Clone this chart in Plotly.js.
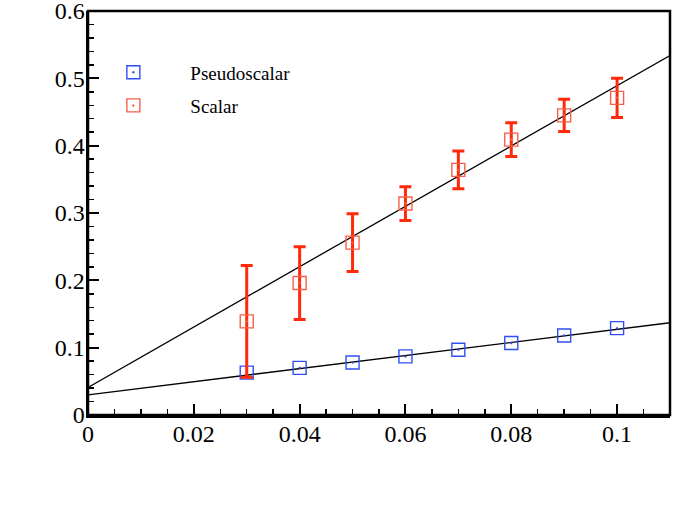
<!DOCTYPE html>
<html>
<head>
<meta charset="utf-8">
<script src="https://cdn.plot.ly/plotly-3.0.1.min.js"></script>
<style>
  html, body { margin: 0; padding: 0; background: #fff; }
  #chart { width: 681px; height: 505px; }
</style>
</head>
<body>
<div id="chart"></div>
<script>
// quark mass values
const MASS = [0.03, 0.04, 0.05, 0.06, 0.07, 0.08, 0.09, 0.1];

const PSEUDO = [0.063, 0.070, 0.078, 0.087, 0.097, 0.107, 0.118, 0.129];

const SCALAR = [0.139, 0.196, 0.256, 0.314, 0.364, 0.409, 0.445, 0.471];
const SCALAR_ERR = [0.083, 0.054, 0.043, 0.025, 0.028, 0.025, 0.024, 0.029];

// linear fits, drawn over the full x range
const FIT_X = [0, 0.11];
const FIT_SCALAR = [0.041, 0.534];
const FIT_PSEUDO = [0.030, 0.137];

// tick labels
const X_TICKS = [0, 0.02, 0.04, 0.06, 0.08, 0.1];
const X_LABELS = ["0", "0.02", "0.04", "0.06", "0.08", "0.1"];
const Y_TICKS = [0, 0.1, 0.2, 0.3, 0.4, 0.5, 0.6];
const Y_LABELS = ["0", "0.1", "0.2", "0.3", "0.4", "0.5", "0.6"];

const SERIF = "Liberation Serif, Times New Roman, serif";

const traces = [
    {
        x: FIT_X, y: FIT_SCALAR,
        mode: "lines", type: "scatter",
        line: { color: "#000", width: 1.3 },
        showlegend: false, hoverinfo: "skip",
    },
    {
        x: FIT_X, y: FIT_PSEUDO,
        mode: "lines", type: "scatter",
        line: { color: "#000", width: 1.3 },
        showlegend: false, hoverinfo: "skip",
    },
    {
        x: MASS, y: PSEUDO,
        mode: "markers", type: "scatter",
        name: "Pseudoscalar", legend: "legend",
        marker: { symbol: "square-open-dot", size: 13, color: "#2f4ff2", line: { width: 1.4 } },
    },
    {
        x: MASS, y: SCALAR,
        mode: "markers", type: "scatter",
        name: "Scalar", legend: "legend2",
        error_y: { type: "data", array: SCALAR_ERR, visible: true, color: "#ff2a0a", thickness: 3, width: 6 },
        marker: { symbol: "square-open-dot", size: 13, color: "#f4604a", line: { width: 1.4 } },
    },
];

const axisCommon = {
    showgrid: false, zeroline: false,
    showline: true, linecolor: "#000", linewidth: 2.5, mirror: false,
    ticks: "inside", ticklen: 11, tickwidth: 2, tickcolor: "#000",
    tickfont: { family: SERIF, size: 24, color: "#000" },
    tickmode: "array",
    ticklabeloverflow: "allow",
};

const legendCommon = {
    x: -0.02, xanchor: "left", yanchor: "top",
    bgcolor: "rgba(0,0,0,0)",
    font: { family: SERIF, size: 19, color: "#000" },
    itemwidth: 104,
};

const layout = {
    width: 681, height: 505,
    paper_bgcolor: "#fff", plot_bgcolor: "#fff",
    margin: { l: 88, r: 11, t: 11, b: 90 },
    xaxis: Object.assign({}, axisCommon, {
        range: [0, 0.11], tickvals: X_TICKS, ticktext: X_LABELS,
        minor: { dtick: 0.005, tick0: 0, ticks: "inside", ticklen: 6, tickwidth: 1.5, tickcolor: "#000" },
        ticklabelstandoff: -4,
    }),
    yaxis: Object.assign({}, axisCommon, {
        range: [0, 0.6], tickvals: Y_TICKS, ticktext: Y_LABELS,
        minor: { dtick: 0.02, tick0: 0, ticks: "inside", ticklen: 6, tickwidth: 1.5, tickcolor: "#000" },
        ticklabelstandoff: -4,
    }),
    shapes: [{
        type: "rect", xref: "x domain", yref: "y domain",
        x0: 0, x1: 1, y0: 0, y1: 1,
        line: { color: "#000", width: 2.5 }, layer: "above",
    }],
    showlegend: true,
    legend: Object.assign({}, legendCommon, { y: 0.895 }),
    legend2: Object.assign({}, legendCommon, { y: 0.813 }),
};

Plotly.newPlot("chart", traces, layout, { displayModeBar: false, staticPlot: true });
</script>
</body>
</html>
